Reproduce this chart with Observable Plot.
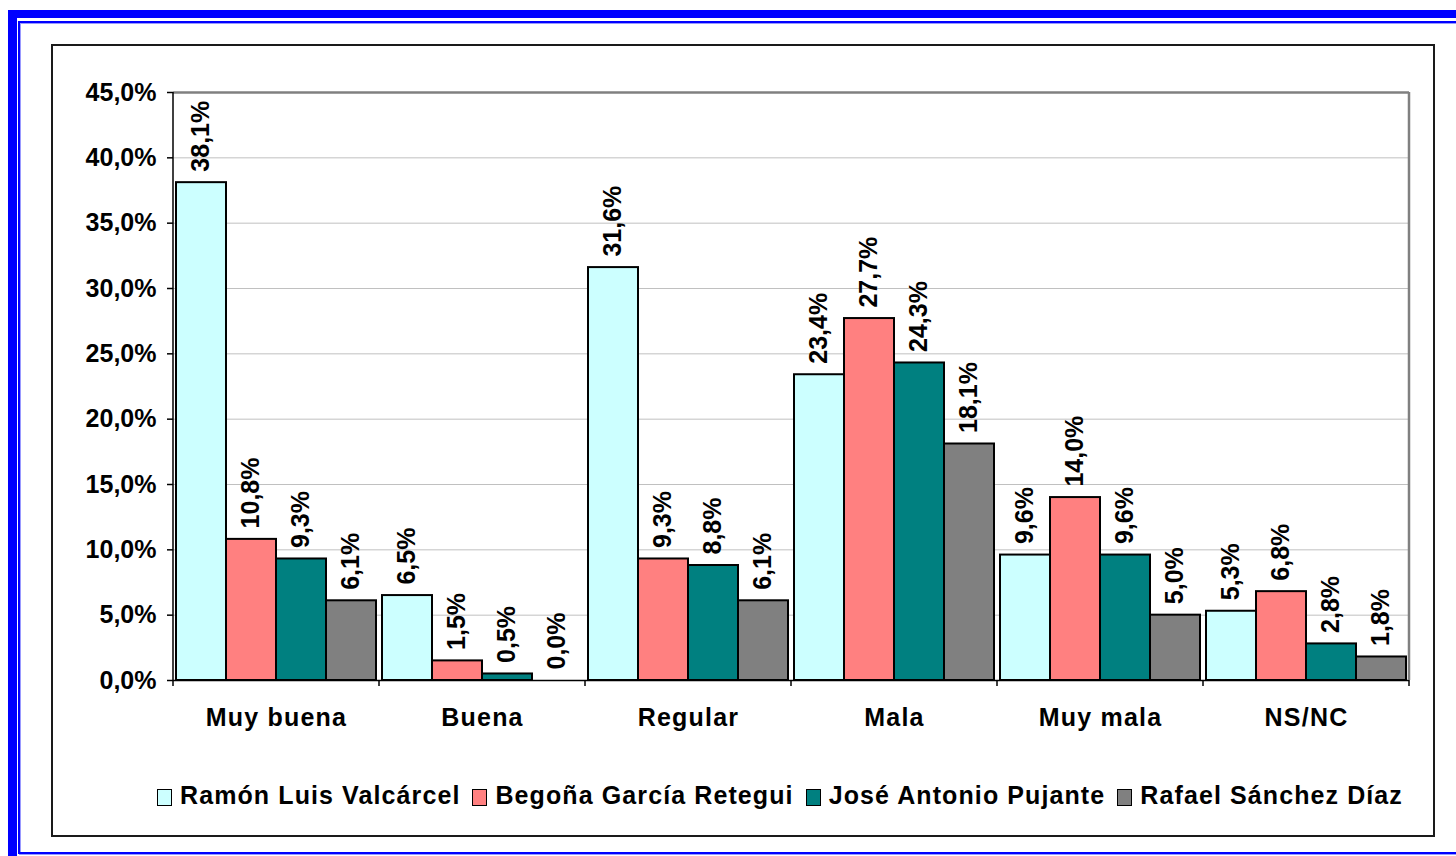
<!DOCTYPE html>
<html>
<head>
<meta charset="utf-8">
<script src="https://cdn.jsdelivr.net/npm/d3@7"></script>
<script src="https://cdn.jsdelivr.net/npm/@observablehq/plot@0.6"></script>
<style>
  html, body { margin: 0; padding: 0; background: #fff; }
  body { width: 1456px; height: 856px; overflow: hidden; position: relative;
         font-family: "Liberation Sans", Arial, sans-serif; }
  .thick { position: absolute; left: 8px; top: 10px; right: -20px; bottom: -20px;
           border-left: 9px solid #0000ff; border-top: 8px solid #0000ff; }
  .thin { position: absolute; left: 18px; top: 21px; right: -20px; height: 829px;
          border-left: 2px solid #0000ff; border-top: 2px solid #0000ff; border-bottom: 2px solid #0000ff;
          box-shadow: 1px 1px 0 #9999ff, inset 1px 1px 0 #9999ff; }
  .box { position: absolute; left: 51px; top: 44px; width: 1380px; height: 789px;
         border: 2px solid #1a1a1a; }
  #chart { position: absolute; left: 0; top: 0; }
  #legend { position: absolute; left: 157px; top: 781px; display: flex; align-items: center;
            font-size: 25px; font-weight: bold; color: #000; white-space: nowrap; letter-spacing: 1.1px; }
  #legend .item { display: flex; align-items: center; margin-right: 12px; }
  #legend .sw { width: 13px; height: 15px; border: 1.5px solid #000; margin-right: 8px; margin-top: 4px; }
  #chart svg g[aria-label="fx-axis tick label"] text { letter-spacing: 1.2px; }
</style>
</head>
<body>
<div class="thick"></div>
<div class="thin"></div>
<div class="box"></div>
<div id="chart"></div>
<div id="legend"></div>
<script>
const categories = ["Muy buena", "Buena", "Regular", "Mala", "Muy mala", "NS/NC"];
const series = ["Ramón Luis Valcárcel", "Begoña García Retegui", "José Antonio Pujante", "Rafael Sánchez Díaz"];
const valcarcel = [38.1, 6.5, 31.6, 23.4, 9.6, 5.3];
const garcia = [10.8, 1.5, 9.3, 27.7, 14.0, 6.8];
const pujante = [9.3, 0.5, 8.8, 24.3, 9.6, 2.8];
const sanchez = [6.1, 0.0, 6.1, 18.1, 5.0, 1.8];
const colors = ["#CCFFFF", "#FF8080", "#008080", "#808080"];
const yTicks = [0, 5, 10, 15, 20, 25, 30, 35, 40, 45];

const seriesValues = [valcarcel, garcia, pujante, sanchez];
const data = [];
categories.forEach((cat, i) => {
  series.forEach((s, j) => data.push({cat, series: s, value: seriesValues[j][i]}));
});

const fmt = v => v.toFixed(1).replace(".", ",") + "%";
const FONT = "Liberation Sans, Arial, sans-serif";

const chart = Plot.plot({
  width: 1456, height: 856,
  marginLeft: 172, marginRight: 46, marginTop: 92, marginBottom: 176,
  style: {background: "transparent", fontFamily: FONT, color: "#000", overflow: "visible"},
  fx: {domain: categories, padding: 0, label: null},
  x: {domain: series, paddingInner: 0, paddingOuter: 0.03, axis: null},
  y: {domain: [0, 45], label: null},
  color: {domain: series, range: colors},
  marks: [
    Plot.gridY(yTicks, {stroke: "#c0c0c0", strokeOpacity: 1, strokeWidth: 1}),
    Plot.barY(data, {fx: "cat", x: "series", y: "value", fill: "series", stroke: "#000", strokeWidth: 2, inset: 0}),
    Plot.ruleY([0], {stroke: "#000", strokeWidth: 1.5}),
    Plot.ruleY([45], {stroke: "#808080", strokeWidth: 2.5}),
    Plot.text(data, {fx: "cat", x: "series", y: "value", text: d => fmt(d.value),
      rotate: -90, textAnchor: "start", lineAnchor: "middle", dy: -11, dx: -1,
      fontSize: 25, fontWeight: "bold", fill: "#000"}),
    Plot.axisY(yTicks, {tickFormat: fmt, tickSize: 6, tickPadding: 11, fontSize: 25, fontWeight: "bold",
      stroke: "#000", strokeWidth: 1.5, label: null}),
    Plot.axisFx({anchor: "bottom", tickSize: 0, tickPadding: 28, fontSize: 25, fontWeight: "bold", label: null})
  ]
});

// Extra frame pieces drawn from the library's scales
const svg = d3.select(chart);
const fx = chart.scale("fx"), y = chart.scale("y");
const y0 = y.apply(0), yTop = y.apply(45);
const left = fx.apply(categories[0]);
const right = fx.apply(categories[categories.length - 1]) + fx.bandwidth;
const g = svg.append("g");
g.append("line").attr("x1", right).attr("x2", right).attr("y1", yTop).attr("y2", y0)
  .attr("stroke", "#808080").attr("stroke-width", 2.5);
g.append("line").attr("x1", left).attr("x2", left).attr("y1", yTop).attr("y2", y0)
  .attr("stroke", "#000").attr("stroke-width", 1.5);
const bounds = categories.map(c => fx.apply(c)).concat([right]);
g.selectAll("line.tk").data(bounds).join("line").attr("class", "tk")
  .attr("x1", d => d).attr("x2", d => d).attr("y1", y0).attr("y2", y0 + 6)
  .attr("stroke", "#000").attr("stroke-width", 1.5);

svg.selectAll('g[aria-label="fx-axis tick label"] text').style("letter-spacing", "1.2px");

document.getElementById("chart").appendChild(chart);

const legend = d3.select("#legend");
series.forEach((s, i) => {
  const it = legend.append("div").attr("class", "item");
  it.append("div").attr("class", "sw").style("background", colors[i]);
  it.append("span").text(s);
});
</script>
</body>
</html>
